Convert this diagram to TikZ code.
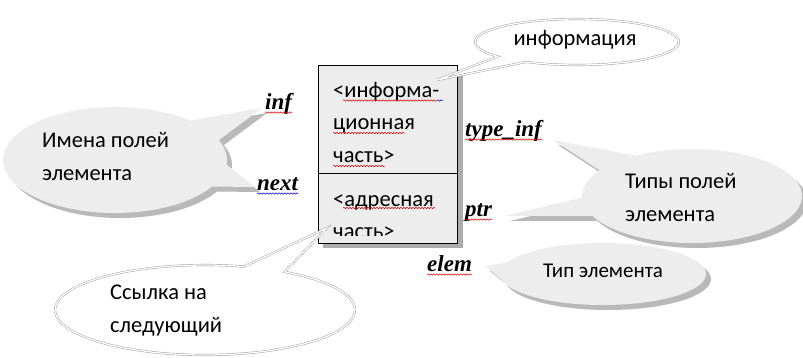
\documentclass[tikz,border=0pt]{standalone}
\usepackage{fontspec}
\newfontfamily\calfont{Carlito}
\newfontfamily\tmsfont{Liberation Serif}
\usetikzlibrary{decorations.pathmorphing,calc}
\begin{document}
\begin{tikzpicture}[x=1pt,y=-1pt,
  lbl/.style={font=\tmsfont\bfseries\itshape\fontsize{23}{23}\selectfont, inner sep=0pt, anchor=base west},
  txt/.style={font=\calfont\fontsize{22.5}{32.5}\selectfont, inner sep=0pt, anchor=base west, align=left},
  smalltxt/.style={txt, font=\calfont\fontsize{21}{21}\selectfont},
  wavy/.style={draw=red!85!black, line width=0.5pt, decorate, decoration={snake, amplitude=0.7pt, segment length=3pt}},
  wavyb/.style={wavy, draw=blue!80!black},
  graycall/.style={fill=gray!14},
  grayshadow/.style={fill=gray!55},
  whitecall/.style={draw=gray!85, double=white, double distance=1.3pt, fill=white},
  boxpart/.style={draw=black, line width=1.2pt, fill=gray!14, inner sep=0pt, anchor=north west, minimum width=139pt},
  boxshadow/.style={fill=gray!65}
]
\useasboundingbox (0,0) rectangle (803,357);

% ---- callout: Имена полей элемента
\path[grayshadow, shift={(5,5)}] (115,160) ++(30:112 and 53) arc[start angle=30, end angle=312, x radius=112, y radius=53] -- (262,108) -- (218.8,140.1) arc[start angle=338, end angle=365, x radius=112, y radius=53] -- (255,187) -- cycle;
\path[graycall] (115,160) ++(30:112 and 53) arc[start angle=30, end angle=312, x radius=112, y radius=53] -- (262,108) -- (218.8,140.1) arc[start angle=338, end angle=365, x radius=112, y radius=53] -- (255,187) -- cycle;
\node[txt] (names) at (42,180) {Имена полей\\элемента};

% ---- callout: Типы полей элемента
\path[grayshadow, shift={(5,5)}] (692,196) ++(239:110 and 47) arc[start angle=239, end angle=515, x radius=110, y radius=47] -- (505,216) -- (582.1,197.6) arc[start angle=178, end angle=213, x radius=110, y radius=47] -- (553,140) -- cycle;
\path[graycall] (692,196) ++(239:110 and 47) arc[start angle=239, end angle=515, x radius=110, y radius=47] -- (505,216) -- (582.1,197.6) arc[start angle=178, end angle=213, x radius=110, y radius=47] -- (553,140) -- cycle;
\node[txt] (types) at (625,221) {Типы полей\\элемента};

% ---- callout: Тип элемента
\path[grayshadow, shift={(5,5)}] (603,274) ++(202:103 and 31) arc[start angle=202, end angle=530, x radius=103, y radius=31] -- (485,266) -- cycle;
\path[graycall] (603,274) ++(202:103 and 31) arc[start angle=202, end angle=530, x radius=103, y radius=31] -- (485,266) -- cycle;
\node[smalltxt] (elemtype) at (543,277) {Тип элемента};

% ---- the element box
\fill[boxshadow] (323,70) rectangle (463,248);
\node[boxpart, minimum height=108pt] (infpart) at (318,65) {};
\node[boxpart, minimum height=70pt] (addrpart) at (318,173) {};
\node[txt] (infotext) at (333,162) {<информа-\\ционная\\часть>};
\begin{scope}
  \clip (318,173) rectangle (457,235.5);
  \node[txt] (addrtext) at (333,238.5) {<адресная\\часть>};
\end{scope}
\draw[wavy] (343,100.5) -- (437,100.5);
\draw[wavyb] (437,100.5) -- (443,100.5);
\draw[wavy] (333,133) -- (405,133);
\draw[wavy] (333,166) -- (385,166);
\draw[wavy] (343,208) -- (435,208);

% ---- callout: информация
\path[whitecall] (577,42) ++(141:102 and 23) arc[start angle=141, end angle=480, x radius=102, y radius=23] -- (437,80) -- cycle;
\node[txt, anchor=base] (info) at (575,45) {информация};

% ---- callout: Ссылка на следующий
\path[whitecall] (205,310) ++(302:150 and 45) arc[start angle=302, end angle=645, x radius=150, y radius=45] -- (327,228) -- cycle;
\node[txt] (link) at (110,332) {Ссылка на\\следующий};

% ---- field labels
\node[lbl] (inf) at (265,109) {inf};
\node[lbl] (next) at (257,190) {next};
\node[lbl] (typeinf) at (465,136) {type\_inf};
\node[lbl] (ptr) at (465,216) {ptr};
\node[lbl] (elem) at (427,271) {elem};
\draw[wavy] ($(inf.base west)+(0,3.5)$) -- ($(inf.base east)+(0,3.5)$);
\draw[wavyb] ($(next.base west)+(0,3.5)$) -- ($(next.base east)+(0,3.5)$);
\draw[wavy] ($(typeinf.base west)+(0,3.5)$) -- ($(typeinf.base east)+(0,3.5)$);
\draw[wavy] ($(ptr.base west)+(0,3.5)$) -- ($(ptr.base east)+(0,3.5)$);
\draw[wavy] ($(elem.base west)+(0,3.5)$) -- ($(elem.base east)+(0,3.5)$);
\end{tikzpicture}
\end{document}
